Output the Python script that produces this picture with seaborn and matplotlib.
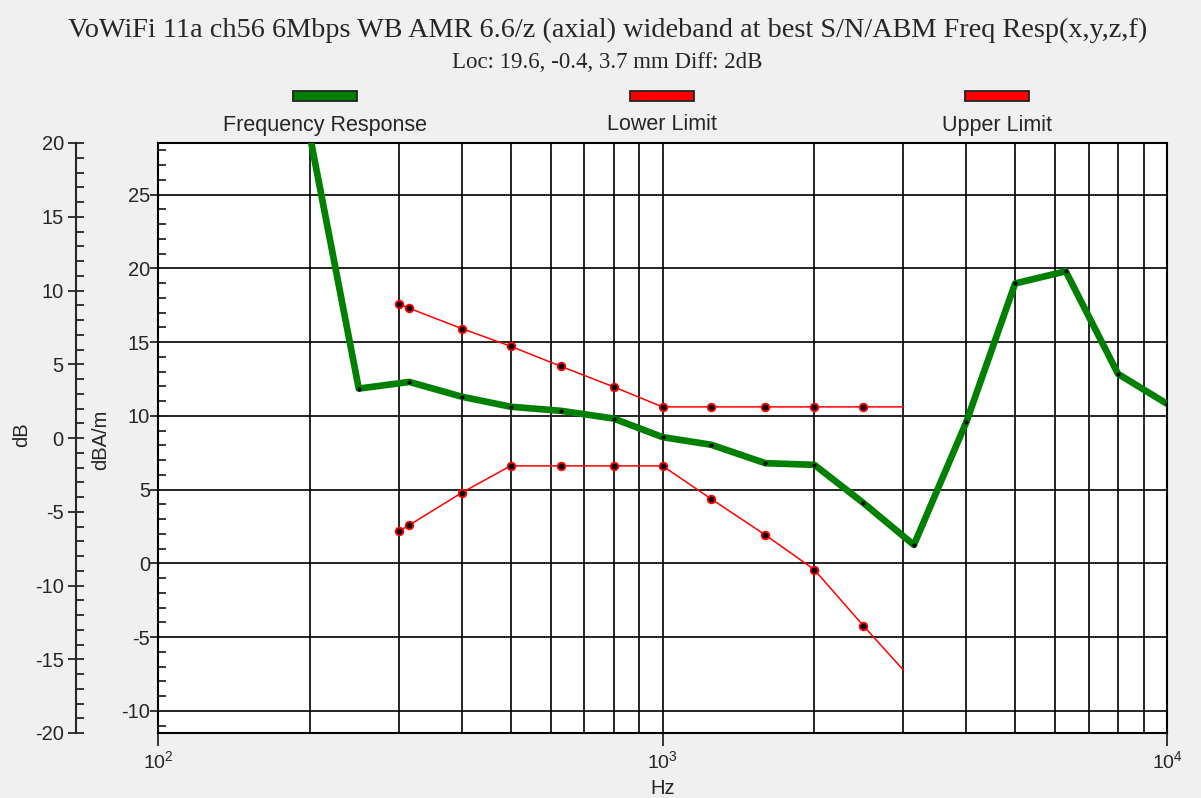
import pandas as pd
import seaborn as sns
import matplotlib.pyplot as plt
from matplotlib.patches import Rectangle
from matplotlib.ticker import MultipleLocator, LogLocator, NullFormatter, FixedLocator

# measured response, dBA/m
resp_freq = [200, 250, 315, 400, 500, 630, 800, 1000, 1250, 1600, 2000,
             2500, 3150, 4000, 5000, 6300, 8000, 10000]
resp_db = [29.0, 11.85, 12.3, 11.3, 10.62, 10.34, 9.82, 8.56, 8.04, 6.79,
           6.68, 4.1, 1.25, 9.57, 18.98, 19.8, 12.84, 10.82]

# limit masks, dBA/m
limit_freq = [300, 315, 400, 500, 630, 800, 1000, 1250, 1600, 2000, 2500, 3000]
upper_db = [17.59, 17.29, 15.92, 14.72, 13.35, 11.97, 10.61, 10.61, 10.61,
            10.61, 10.61, 10.61]
lower_db = [2.17, 2.6, 4.79, 6.61, 6.61, 6.61, 6.61, 4.36, 1.92, -0.43,
            -4.22, -7.22]

legend_labels = ['Frequency Response', 'Lower Limit', 'Upper Limit']
legend_colors = ['#008000', '#ff0000', '#ff0000']

title = 'VoWiFi 11a ch56 6Mbps WB AMR 6.6/z (axial) wideband at best S/N/ABM Freq Resp(x,y,z,f)'
subtitle = 'Loc: 19.6, -0.4, 3.7 mm Diff: 2dB'

offset = 8.5  # dBA/m -> dB
db_ticks = list(range(-20, 21, 5))
db_minor = list(range(-20, 21))

sns.set_style('ticks')
plt.rcParams['font.family'] = ['Liberation Sans', 'DejaVu Sans']
plt.rcParams['mathtext.default'] = 'regular'
plt.rcParams['axes.unicode_minus'] = False

W, H = 1201, 798
fig = plt.figure(figsize=(W / 100, H / 100), dpi=100, facecolor='#f0f0f0')
ax = fig.add_axes([158 / W, 1 - 733 / H, 1009 / W, 590 / H])
ax.set_facecolor('white')
ax.set_xscale('log')
ax.set_xlim(100, 10000)
ax.set_ylim(-11.5, 28.5)

df = pd.DataFrame({'f': resp_freq, 'db': resp_db})
lim = pd.DataFrame({'f': limit_freq, 'up': upper_db, 'lo': lower_db})

for col in ['up', 'lo']:
    sns.lineplot(data=lim, x='f', y=col, ax=ax, color='#ff0000', linewidth=1.1,
                 marker='o', markersize=5.5, markerfacecolor='black',
                 markeredgecolor='#ff0000', markeredgewidth=1.3,
                 markevery=list(range(len(limit_freq) - 1)), zorder=4)
sns.lineplot(data=df, x='f', y='db', ax=ax, color='#008000', linewidth=4.8,
             marker='o', markersize=3, markerfacecolor='black',
             markeredgecolor='black', markeredgewidth=0, zorder=5)

# grid & ticks
ax.xaxis.set_major_locator(FixedLocator([100, 1000, 10000]))
ax.xaxis.set_minor_locator(LogLocator(base=10, subs=range(2, 10)))
ax.xaxis.set_minor_formatter(NullFormatter())
ax.yaxis.set_major_locator(MultipleLocator(5))
ax.yaxis.set_minor_locator(MultipleLocator(1))
ax.grid(True, which='both', axis='x', color='black', linewidth=1.2)
ax.grid(True, which='major', axis='y', color='black', linewidth=1.2)
ax.tick_params(axis='x', which='major', direction='out', length=9.5, width=1.3,
               labelsize=14, pad=3)
ax.tick_params(axis='x', which='minor', length=0)
ax.tick_params(axis='y', which='major', direction='inout', length=11.5, width=1.3,
               labelsize=14.5, pad=0)
ax.tick_params(axis='y', which='minor', direction='in', length=5.8, width=1.3)
for s in ax.spines.values():
    s.set_linewidth(1.5)
    s.set_color('black')
ax.set_xlabel('Hz', fontsize=14.5, labelpad=5)
ax.set_ylabel('')

# outer dB scale
sec = ax.secondary_yaxis((76 - 158) / 1009,
                         functions=(lambda v: v - offset, lambda v: v + offset))
sec.yaxis.set_major_locator(FixedLocator(db_ticks))
sec.yaxis.set_minor_locator(FixedLocator(db_minor))
sec.tick_params(which='major', direction='inout', length=11.5, width=1.3,
                labelsize=14.5, pad=3)
sec.tick_params(which='minor', direction='in', length=5.8, width=1.3)
sec.spines['left'].set_linewidth(1.5)

fig.text(22 / W, 1 - 435 / H, 'dB', rotation=90, ha='center', va='center', fontsize=14.5)
fig.text(101 / W, 1 - 440 / H, 'dBA/m', rotation=90, ha='center', va='center', fontsize=14.5)

fig.text(608 / W, 1 - 30 / H, title, ha='center', va='center', fontsize=20.3,
         family=['Liberation Serif', 'DejaVu Serif'])
fig.text(607 / W, 1 - 62 / H, subtitle, ha='center', va='center', fontsize=16.5,
         family=['Liberation Serif', 'DejaVu Serif'])

# legend: swatch above label
for cx, lab, c in zip([325, 662, 997], legend_labels, legend_colors):
    fig.add_artist(Rectangle(((cx - 32) / W, 1 - 101 / H), 64 / W, 10 / H,
                             transform=fig.transFigure, facecolor=c,
                             edgecolor='#222222', linewidth=1.3))
    fig.text(cx / W, 1 - 125 / H, lab, ha='center', va='center', fontsize=15.5)

fig.savefig('out.png', dpi=100, facecolor=fig.get_facecolor())
